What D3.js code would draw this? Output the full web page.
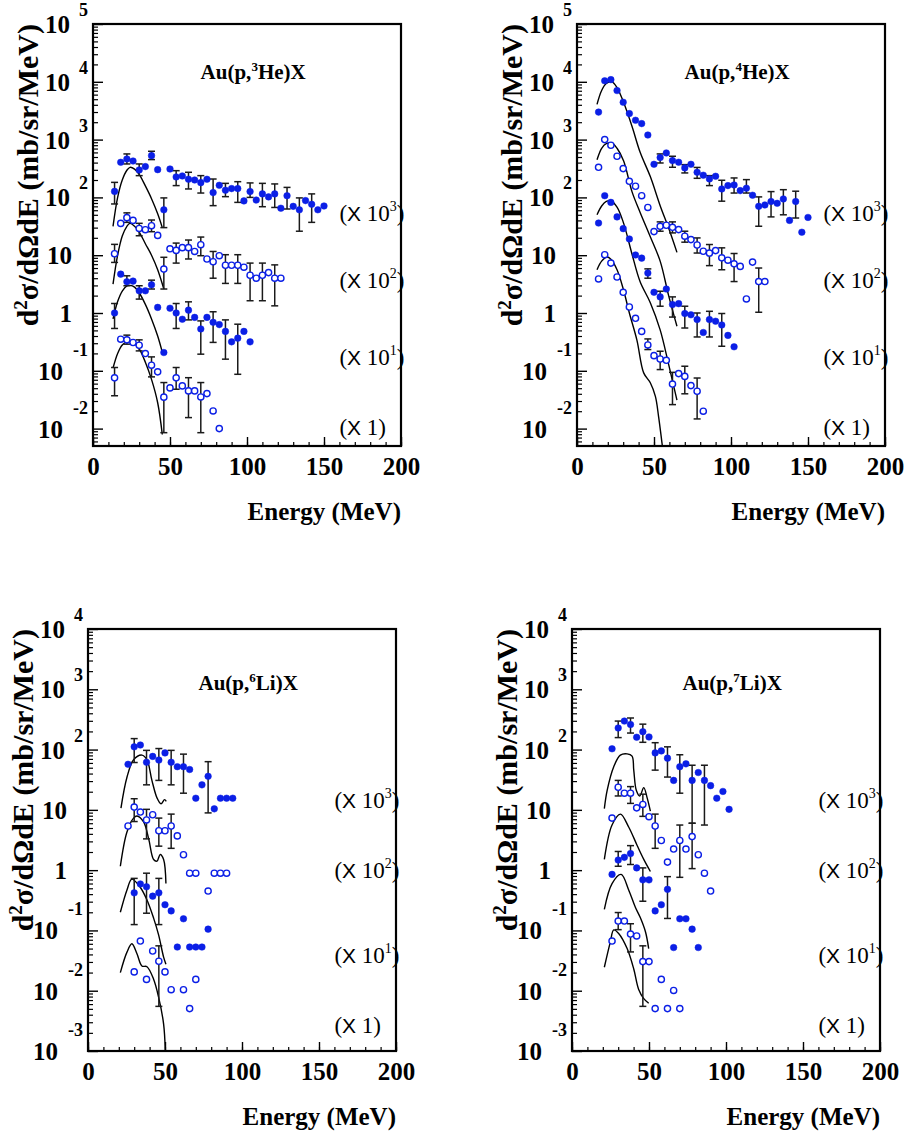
<!DOCTYPE html>
<html>
<head>
<meta charset="utf-8">
<script src="https://cdn.jsdelivr.net/npm/d3@7"></script>
<style>
  body { margin: 0; background: #fff; }
  text { font-family: 'Liberation Serif', 'Times New Roman', serif; }
</style>
</head>
<body>
<svg id="fig" width="904" height="1137"></svg>
<script>
// plotted values (scale factors already applied): [E, y] or [E, y, low, high]

// Au(p,3He)X
var he3A = [[14,127,77,182],[18,405],[22,462,379,565],[26,426],[30,298,238,379],[34,341],[38,528,451,628],[42,302],[46,61,30,98],[50,310],[54,226,160,290],[58,235],[62,206,140,272],[66,200],[70,180,119,238],[74,206],[78,121,72,208],[82,162],[86,133,103,175],[90,142],[94,142,82,187],[98,87],[102,126,100,178],[106,90],[110,115,69,175],[114,102],[118,115,67,171],[122,65],[126,107,63,149],[130,70],[134,61,26,98],[138,88],[142,76,37,115],[146,61],[150,71]];
var he3B = [[14,10.6,7.5,15.4],[18,35.5],[22,44.6,37,54],[26,40],[30,29,21.7,35.6],[34,27.6],[38,32.4,25.5,40.6],[42,22],[46,5.75,2.6,9.2],[50,12.9],[54,12.1,7.3,16.2],[58,13.5],[62,13.5,8.6,18.3],[66,11.6],[70,15.2,9.8,20.6],[74,8.6],[78,7.7,4.0,11.6],[82,9.8],[86,6.7,3.25,10.2],[90,6.7],[94,6.7,3.25,10.2],[98,6.2],[102,4.5,1.63,7.3],[106,4.0],[110,4.5,1.63,7.3],[114,5.0],[118,4.0,1.33,6.8],[122,4.0]];
var he3C = [[14,1.0,0.54,1.46],[18,4.7],[22,3.47,2.96,4.4],[26,3.56],[30,2.42,1.74,2.96],[34,2.42],[38,3.08,2.6,3.7],[42,1.25],[46,0.207],[50,1.21],[54,1.0,0.54,1.46],[58,0.78],[62,1.12,0.76,1.56],[66,0.84],[70,0.53,0.194,0.73],[74,0.84],[78,0.69,0.31,1.05],[82,0.63],[86,0.48,0.159,0.76],[90,0.317],[94,0.367,0.087,0.64],[98,0.48],[102,0.317]];
var he3D = [[14,0.0755,0.037,0.114],[18,0.352],[22,0.343,0.289,0.414],[26,0.309],[30,0.277,0.221,0.343],[34,0.199],[38,0.125,0.0785,0.174],[42,0.096],[46,0.035,0.0085,0.0626],[50,0.0506],[54,0.0755,0.048,0.114],[58,0.0548],[62,0.0449,0.0155,0.076],[66,0.0449],[70,0.0353,0.0085,0.0626],[74,0.0403],[78,0.0202],[82,0.01]];
var he3TheoA = [[13,31.6],[16,100],[19,200],[22,295],[24,331],[27,309],[30,251],[34,158],[38,95],[42,52],[45,30]];
var he3TheoB = [[13,3.16],[16,10],[19,21.4],[22,31.6],[24,35.5],[27,31.6],[30,25.1],[34,15.8],[38,10],[42,5.6],[46,2.6]];
var he3TheoC = [[13,0.79],[16,1.58],[19,2.4],[22,2.95],[24,3.0],[27,2.8],[30,2.24],[34,1.41],[38,0.79],[42,0.4],[45,0.21]];
var he3TheoD = [[13,0.112],[16,0.2],[19,0.28],[22,0.316],[24,0.316],[27,0.295],[30,0.24],[34,0.141],[38,0.071],[42,0.028],[45,0.0079]];

// Au(p,4He)X
var he4A = [[14,2990],[18,10400],[22,10900],[26,7050],[30,4430],[34,2820],[38,2160],[42,1890],[46,1200],[50,374],[54,488,394,565],[58,588],[62,433,332,515],[66,406],[70,324,265,369],[74,374],[78,272,214,330],[82,242],[86,209,160,238],[90,232],[94,140,86,198],[98,160],[102,164,119,217],[106,131],[110,144,119,203],[114,109],[118,70,31.7,102],[122,74],[126,85,46,126],[130,79],[134,94,50,136],[138,40],[142,85,44,128],[146,25],[150,45]];
var he4B = [[14,332],[18,1000],[22,798],[26,515],[30,315],[34,190],[38,156],[42,107],[46,67],[50,25.6],[54,31.6,26,37.7],[58,33],[62,30.4,24.3,37.7],[66,27.7],[70,21.3,16.8,26],[74,18.6],[78,15,10.9,19.9],[82,11.7],[86,10.9,6.6,15.3],[90,12],[94,9,5.6,13.4],[98,8.2],[102,7.1,3.5,10.7],[106,6.4],[110,1.75],[114,7.6],[118,3.5,1.03,6.0],[122,3.5]];
var he4C = [[14,36],[18,107],[22,82],[26,46],[30,28.8],[34,19.1],[38,10.1],[42,8.9],[46,4.9,4.0,5.8],[50,2.28],[54,1.9,1.31,2.38],[58,2.6],[62,1.4,0.85,1.9],[66,1.45],[70,0.98,0.55,1.31],[74,0.93],[78,0.77,0.385,1.0],[82,0.46],[86,0.77,0.385,1.07],[90,0.72],[94,0.62,0.266,0.98],[98,0.41],[102,0.26]];
var he4D = [[14,3.88],[18,10.2],[22,7.3],[26,4.2],[30,2.28],[34,1.27],[38,0.81],[42,0.48],[46,0.28,0.233,0.356],[50,0.183],[54,0.16,0.105,0.218],[58,0.152],[62,0.059,0.026,0.094],[66,0.0895],[70,0.080,0.040,0.12],[74,0.0555],[78,0.0443,0.0147,0.075],[82,0.02]];
var he4TheoA = [[13,4074],[16,7080],[19,9330],[22.7,10000],[26,7940],[30.3,4365],[35.7,1700],[41,603],[47.6,229],[54,72],[59.5,29.5],[64.9,11.2]];
var he4TheoB = [[13,447],[16,708],[19,851],[22.7,871],[26,708],[30.3,427],[35.7,126],[41,55],[47.6,20.9],[54,7.9],[59.5,2.0],[64.9,0.59]];
var he4TheoC = [[13,50],[16,71],[19,85],[22,87],[26,68],[30.3,35.5],[35.7,10.5],[41,3.47],[47.6,1.51],[54,0.51],[59.5,0.129],[64.9,0.031]];
var he4TheoD = [[13,5.6],[16,7.9],[19.5,9.3],[22,8.5],[26,5.6],[30.3,2.45],[34,1.0],[38.9,0.34],[43.3,0.092],[47.6,0.062],[50.9,0.036],[53,0.016],[55.2,0.0056],[56.5,0.003]];

// Au(p,6Li)X
var li6A = [[26,57],[30,111,61,152],[34,119],[38,61.6,26,97],[42,77],[46,67,30.8,104],[50,88],[54,61.6,26,97],[58,52],[62,52,18.9,84],[66,46.7],[70,15.6],[74,26],[78,36,8.9,63],[82,10.4],[86,15.6],[90,15.6],[94,15.6]];
var li6B = [[26,5.4],[30,11.1,6.4,15.3],[34,9.2],[38,6.8,3.3,10.2],[42,8.3],[46,4.5,2.5,7.3],[50,4.5],[54,5.4,2.3,8.5],[58,3.7],[62,1.8],[66,0.89],[70,0.89],[78,0.45],[82,0.89],[86,0.89],[90,0.89]];
var li6C = [[30,0.42,0.125,0.73],[34,0.59],[38,0.53,0.193,0.89],[42,0.37],[46,0.42,0.125,0.73],[50,0.267],[54,0.211],[58,0.053],[62,0.156],[66,0.053],[70,0.053],[74,0.053],[78,0.105]];
var li6D = [[30,0.0205],[34,0.0667],[38,0.0154],[42,0.0456],[46,0.0308,0.0055,0.0555],[50,0.0205],[54,0.0104],[62,0.0104],[66,0.00505],[70,0.0154]];
var li6TheoA = [[21.4,10.7],[25.3,34.7],[29.6,67.6],[35,81],[38.3,67.6],[41.5,30.9],[44.8,15.8],[47.4,12.6],[49.7,14.8],[50.8,13.8]];
var li6TheoB = [[21,1.16],[25.3,4.3],[29.6,7.3],[31.8,7.9],[36.1,6.3],[39.4,3.3],[42.6,1.5],[44.8,1.41],[46.9,1.82],[49.1,1.5],[50.6,0.6]];
var li6TheoC = [[21,0.2],[25.3,0.47],[28.5,0.71],[33.9,0.52],[38.3,0.32],[42.6,0.16],[45.8,0.085],[49.1,0.036],[50.6,0.0275]];
var li6TheoD = [[21,0.02],[25.3,0.0437],[28.5,0.06],[31.8,0.041],[35,0.0257],[38.3,0.025],[42.6,0.0155],[45.8,0.0079],[49.1,0.0028],[50.2,0.001]];

// Au(p,7Li)X
var li7A = [[26,103],[30,228,158,297],[34,297],[38,260,188,334],[42,160],[46,198,132,264],[50,162],[54,88,45.6,130],[58,95],[62,72,35,111],[66,30.8],[70,52,18.9,82],[74,58],[78,30.8,6.0,55],[82,41.6],[86,30.8,5.6,55],[90,25.2],[94,15.6],[98,20.2],[102,10.2]];
var li7B = [[26,7.3],[30,23.7,17,30.8],[34,18.9],[38,18.9,12.8,24.3],[42,10.8],[46,12.3,7.8,18.2],[50,7.7],[54,5.4,2.3,8.5],[58,3.1],[62,1.36],[66,2.24],[70,3.1,0.76,5.6],[74,2.24],[78,3.6,1.06,6.0],[82,1.8],[86,0.89],[90,0.45]];
var li7C = [[26,0.85],[30,1.47,1.16,2.04],[34,1.63],[38,1.88,1.24,2.55],[42,1.09],[46,0.69,0.305,1.09],[50,0.69],[54,0.211],[58,0.267],[62,0.48,0.158,0.78],[66,0.052],[70,0.156],[74,0.156],[78,0.105],[82,0.052]];
var li7D = [[26,0.0667],[30,0.143,0.103,0.198],[34,0.143],[38,0.087,0.044,0.129],[42,0.081],[46,0.0304,0.0055,0.0555],[50,0.0304],[54,0.00505],[58,0.0154],[62,0.00505],[66,0.0101],[70,0.00505]];
var li7TheoA = [[21,10.5],[22.8,20.9],[27.1,52],[31.4,81],[35.8,85],[39,78],[40.1,45.7],[41.8,20.9],[44,17],[46.6,23.4],[48.8,15.8],[50.9,9.5]];
var li7TheoB = [[21,1.51],[26,5.6],[31.4,8.5],[36.8,5.2],[42.3,2.57],[46.6,1.51],[50.9,0.95]];
var li7TheoC = [[21,0.224],[26,0.6],[31.9,0.85],[36.8,0.47],[41.2,0.24],[44.4,0.162],[47.7,0.095],[49.8,0.05]];
var li7TheoD = [[21,0.0245],[24.9,0.0646],[27.1,0.102],[30.3,0.089],[35.8,0.05],[40.1,0.0229],[43.3,0.0105],[46.6,0.0074],[49.8,0.0062]];

// axes and labels
var xMajor = [0, 50, 100, 150, 200];
var xMinor = d3.range(0, 201, 10);
var heDecades = [5, 4, 3, 2, 1, 0, -1, -2];
var liDecades = [4, 3, 2, 1, 0, -1, -2, -3];
var scaleTexts = ["3", "2", "1", null];
var heScaleY = [53.7, 3.76, 0.176, 0.0105];
var liScaleY = [14.5, 1.0, 0.039, 0.0027];

var BLUE = "#0b1fe6";
var svg = d3.select("#fig");

var panels = [
  {left: 93, top: 24, ymin: 0.005, ymax: 1e5, dec: heDecades, series: [he3A, he3B, he3C, he3D],
   theory: [he3TheoA, he3TheoB, he3TheoC, he3TheoD], iso: "3", el: "He", titleY: 14800, scaleY: heScaleY},
  {left: 577, top: 24, ymin: 0.005, ymax: 1e5, dec: heDecades, series: [he4A, he4B, he4C, he4D],
   theory: [he4TheoA, he4TheoB, he4TheoC, he4TheoD], iso: "4", el: "He", titleY: 14800, scaleY: heScaleY},
  {left: 88, top: 629, ymin: 1e-3, ymax: 1e4, dec: liDecades, series: [li6A, li6B, li6C, li6D],
   theory: [li6TheoA, li6TheoB, li6TheoC, li6TheoD], iso: "6", el: "Li", titleY: 1260, scaleY: liScaleY},
  {left: 572, top: 629, ymin: 1e-3, ymax: 1e4, dec: liDecades, series: [li7A, li7B, li7C, li7D],
   theory: [li7TheoA, li7TheoB, li7TheoC, li7TheoD], iso: "7", el: "Li", titleY: 1260, scaleY: liScaleY}
];

var pw = 308, ph = 422;

panels.forEach(function(p, n) {
  var g = svg.append("g").attr("transform", "translate(" + p.left + "," + p.top + ")");
  var x = d3.scaleLinear().domain([0, 200]).range([0, pw]);
  var y = d3.scaleLog().domain([p.ymin, p.ymax]).range([ph, 0]);

  // minor log ticks
  var minor = [];
  for (var e = -4; e <= 5; e++) {
    for (var m = 2; m <= 9; m++) {
      var v = m * Math.pow(10, e);
      if (v > p.ymin && v < p.ymax) minor.push(v);
    }
  }
  g.append("g").call(d3.axisLeft(y).tickValues(minor).tickSize(-5).tickFormat(""))
    .call(function(a) { a.select(".domain").remove(); })
    .selectAll("line").attr("stroke", "#000").attr("stroke-width", 1.2);
  g.append("g").call(d3.axisLeft(y).tickValues(p.dec.map(function(d) { return Math.pow(10, d); }))
      .tickSize(-10).tickFormat(""))
    .call(function(a) { a.select(".domain").remove(); })
    .selectAll("line").attr("stroke", "#000").attr("stroke-width", 1.4);

  // x ticks
  g.append("g").attr("transform", "translate(0," + ph + ")")
    .call(d3.axisBottom(x).tickValues(xMinor).tickSize(-4).tickFormat(""))
    .call(function(a) { a.select(".domain").remove(); })
    .selectAll("line").attr("stroke", "#000").attr("stroke-width", 1.2);
  var xa = g.append("g").attr("transform", "translate(0," + ph + ")")
    .call(d3.axisBottom(x).tickValues(xMajor).tickSize(-9).tickPadding(11));
  xa.select(".domain").remove();
  xa.selectAll("line").attr("stroke", "#000").attr("stroke-width", 1.4);
  xa.selectAll("text").attr("font-family", "'Liberation Serif', serif").attr("font-weight", "bold")
    .attr("font-size", 25).attr("fill", "#000");

  // y tick labels
  p.dec.forEach(function(d) {
    var py = y(Math.pow(10, d));
    if (d === 0 || d === 1) {
      g.append("text").attr("x", -21).attr("y", py + 9).attr("text-anchor", "end")
        .attr("font-weight", "bold").attr("font-size", 25).text(d === 0 ? "1" : "10");
    } else {
      g.append("text").attr("x", d < 0 ? -30 : -23).attr("y", py + 9).attr("text-anchor", "end")
        .attr("font-weight", "bold").attr("font-size", 25).text("10");
      g.append("text").attr("x", -5).attr("y", py - (d < 0 ? 15 : 8)).attr("text-anchor", "end")
        .attr("font-weight", "bold").attr("font-size", 18).text(d);
    }
  });

  // frame
  g.append("rect").attr("width", pw).attr("height", ph)
    .attr("fill", "none").attr("stroke", "#000").attr("stroke-width", 2.2);

  // data area
  svg.append("clipPath").attr("id", "clip" + n)
    .append("rect").attr("width", pw).attr("height", ph);
  var data = g.append("g").attr("clip-path", "url(#clip" + n + ")");

  var line = d3.line().x(function(d) { return x(d[0]); }).y(function(d) { return y(d[1]); })
    .curve(d3.curveCatmullRom.alpha(0.5));
  p.theory.forEach(function(t) {
    data.append("path").attr("d", line(t)).attr("fill", "none")
      .attr("stroke", "#000").attr("stroke-width", 1.4);
  });

  p.series.forEach(function(s, k) {
    var filled = k % 2 === 0;
    var eb = s.filter(function(d) { return d.length > 2; });
    var bars = data.append("g").attr("stroke", "#1a1a1a").attr("stroke-width", 1.5);
    bars.selectAll(".v").data(eb).join("line")
      .attr("x1", function(d) { return x(d[0]); }).attr("x2", function(d) { return x(d[0]); })
      .attr("y1", function(d) { return y(d[2]); }).attr("y2", function(d) { return y(d[3]); });
    bars.selectAll(".lo").data(eb).join("line")
      .attr("x1", function(d) { return x(d[0]) - 3.5; }).attr("x2", function(d) { return x(d[0]) + 3.5; })
      .attr("y1", function(d) { return y(d[2]); }).attr("y2", function(d) { return y(d[2]); });
    bars.selectAll(".hi").data(eb).join("line")
      .attr("x1", function(d) { return x(d[0]) - 3.5; }).attr("x2", function(d) { return x(d[0]) + 3.5; })
      .attr("y1", function(d) { return y(d[3]); }).attr("y2", function(d) { return y(d[3]); });

    data.append("g").selectAll("circle").data(s).join("circle")
      .attr("cx", function(d) { return x(d[0]); }).attr("cy", function(d) { return y(d[1]); })
      .attr("r", filled ? 3.3 : 3.1)
      .attr("fill", filled ? BLUE : "#fff").attr("stroke", BLUE)
      .attr("stroke-width", filled ? 0.5 : 1.4);
  });

  // reaction title
  var t = g.append("text").attr("x", x(104)).attr("y", y(p.titleY) + 7).attr("text-anchor", "middle")
    .attr("font-weight", "bold").attr("font-size", 21);
  t.append("tspan").text("Au(p,");
  t.append("tspan").attr("dy", -8).attr("font-size", 13).text(p.iso);
  t.append("tspan").attr("dy", 8).text(p.el + ")X");

  // scale factor labels
  p.scaleY.forEach(function(v, k) {
    var s = g.append("text").attr("x", x(160)).attr("y", y(v) + 8).attr("font-size", 23);
    s.append("tspan").text("(");
    s.append("tspan").attr("font-family", "'Liberation Sans', sans-serif").attr("font-size", 21).text("X");
    if (scaleTexts[k]) {
      s.append("tspan").text(" 10");
      s.append("tspan").attr("dy", -10).attr("font-size", 14).text(scaleTexts[k]);
      s.append("tspan").attr("dy", 10).text(")");
    } else {
      s.append("tspan").text(" 1)");
    }
  });

  // axis titles
  g.append("text").attr("x", pw).attr("y", ph + 74).attr("text-anchor", "end")
    .attr("font-weight", "bold").attr("font-size", 25).text("Energy (MeV)");
  var yt = g.append("text").attr("transform", "translate(-55,0) rotate(-90)")
    .attr("text-anchor", "end").attr("font-weight", "bold").attr("font-size", 30);
  yt.append("tspan").text("d");
  yt.append("tspan").attr("dy", -11).attr("font-size", 19).text("2");
  yt.append("tspan").attr("dy", 11).text("σ/dΩdE (mb/sr/MeV)");
});
</script>
</body>
</html>
